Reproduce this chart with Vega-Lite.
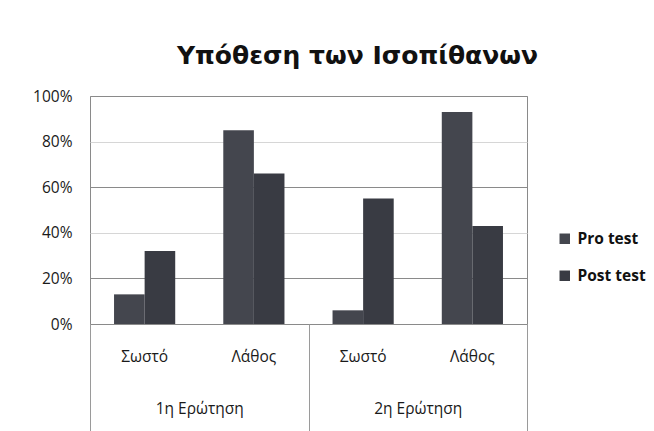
{
  "$schema": "https://vega.github.io/schema/vega-lite/v6.json",
  "width": 437,
  "height": 228,
  "autosize": "none",
  "padding": {"left": 90, "top": 96, "right": 127, "bottom": 107},
  "background": "white",
  "title": {
    "text": "Υπόθεση των Ισοπίθανων",
    "font": "DejaVu Sans",
    "fontSize": 25,
    "fontWeight": "bold",
    "color": "#111111",
    "anchor": "middle",
    "dx": 49,
    "baseline": "alphabetic",
    "offset": 0
  },
  "data": {
    "values": [
      {"question": "1η Ερώτηση", "cat": "1|Σωστό", "series": "Pro test", "value": 0.13},
      {"question": "1η Ερώτηση", "cat": "1|Σωστό", "series": "Post test", "value": 0.32},
      {"question": "1η Ερώτηση", "cat": "1|Λάθος", "series": "Pro test", "value": 0.85},
      {"question": "1η Ερώτηση", "cat": "1|Λάθος", "series": "Post test", "value": 0.66},
      {"question": "2η Ερώτηση", "cat": "2|Σωστό", "series": "Pro test", "value": 0.06},
      {"question": "2η Ερώτηση", "cat": "2|Σωστό", "series": "Post test", "value": 0.55},
      {"question": "2η Ερώτηση", "cat": "2|Λάθος", "series": "Pro test", "value": 0.93},
      {"question": "2η Ερώτηση", "cat": "2|Λάθος", "series": "Post test", "value": 0.43}
    ]
  },
  "layer": [
    {
      "mark": {"type": "bar"},
      "encoding": {
        "x": {
          "field": "cat",
          "type": "nominal",
          "sort": null,
          "scale": {"paddingInner": 0.44, "paddingOuter": 0.22},
          "axis": {
            "orient": "bottom",
            "title": null,
            "grid": false,
            "ticks": false,
            "domain": false,
            "labelAngle": 0,
            "labelExpr": "split(datum.label, '|')[1]",
            "labelFont": "Open Sans",
            "labelFontSize": 15.5,
            "labelColor": "#1a1a1a",
            "labelPadding": 25
          }
        },
        "xOffset": {"field": "series", "type": "nominal", "sort": ["Pro test", "Post test"]},
        "y": {
          "field": "value",
          "type": "quantitative",
          "scale": {"domain": [0, 1]},
          "axis": {
            "title": null,
            "grid": true,
            "values": [0, 0.2, 0.4, 0.6, 0.8, 1],
            "format": ".0%",
            "ticks": false,
            "domain": false,
            "labelFont": "Open Sans",
            "labelFontSize": 15.5,
            "labelColor": "#1a1a1a",
            "labelPadding": 18,
            "gridColor": {
              "condition": {"test": "datum.value == 0.4 || datum.value == 0.8", "value": "#d6d6d6"},
              "value": "#8a8a8a"
            }
          }
        },
        "color": {
          "field": "series",
          "type": "nominal",
          "sort": ["Pro test", "Post test"],
          "scale": {"domain": ["Pro test", "Post test"], "range": ["#44464e", "#393b43"]},
          "legend": {
            "title": null,
            "orient": "none",
            "legendX": 467,
            "legendY": 135,
            "symbolType": "square",
            "symbolSize": 110,
            "symbolStrokeWidth": 0,
            "labelFont": "Open Sans",
            "labelFontSize": 15.5,
            "labelFontWeight": "bold",
            "labelColor": "#111111",
            "labelOffset": 5,
            "rowPadding": 20,
            "padding": 0
          }
        }
      }
    },
    {
      "mark": {"type": "rule", "opacity": 0},
      "encoding": {
        "x": {
          "field": "question",
          "type": "nominal",
          "sort": null,
          "scale": {"paddingInner": 0, "paddingOuter": 0},
          "axis": {
            "orient": "bottom",
            "title": null,
            "grid": false,
            "domain": false,
            "ticks": true,
            "tickBand": "extent",
            "tickSize": 107,
            "tickColor": "#9a9a9a",
            "tickWidth": 1,
            "labelAngle": 0,
            "labelFont": "Open Sans",
            "labelFontSize": 15.5,
            "labelColor": "#1a1a1a",
            "labelPadding": -30
          }
        }
      }
    }
  ],
  "resolve": {"scale": {"x": "independent"}, "axis": {"x": "independent"}},
  "config": {
    "view": {"stroke": "#8a8a8a", "strokeWidth": 1}
  }
}
